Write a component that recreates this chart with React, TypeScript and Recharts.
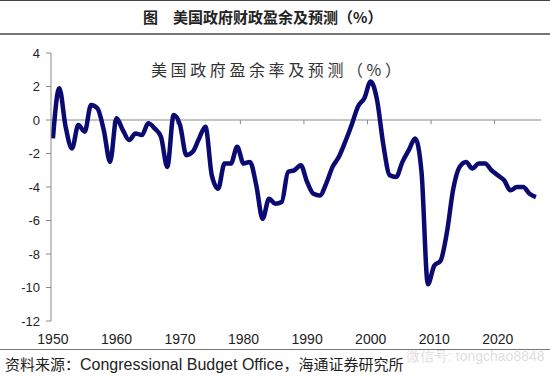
import React from 'react';
import { LineChart, Line, XAxis, YAxis, ReferenceLine } from 'recharts';

const years = [
  1950, 1951, 1952, 1953, 1954, 1955, 1956, 1957, 1958, 1959,
  1960, 1961, 1962, 1963, 1964, 1965, 1966, 1967, 1968, 1969,
  1970, 1971, 1972, 1973, 1974, 1975, 1976, 1977, 1978, 1979,
  1980, 1981, 1982, 1983, 1984, 1985, 1986, 1987, 1988, 1989,
  1990, 1991, 1992, 1993, 1994, 1995, 1996, 1997, 1998, 1999,
  2000, 2001, 2002, 2003, 2004, 2005, 2006, 2007, 2008, 2009,
  2010, 2011, 2012, 2013, 2014, 2015, 2016, 2017, 2018, 2019,
  2020, 2021, 2022, 2023, 2024, 2025, 2026,
];

// surplus (+) / deficit (-) as % of GDP
const surplus = [
  -1.1, 1.9, -0.4, -1.7, -0.3, -0.7, 0.9, 0.7, -0.6, -2.5,
  0.1, -0.6, -1.2, -0.8, -0.9, -0.2, -0.5, -1.0, -2.8, 0.3,
  -0.3, -2.1, -1.9, -1.1, -0.4, -3.3, -4.1, -2.6, -2.6, -1.6,
  -2.6, -2.5, -3.9, -5.9, -4.7, -5.0, -4.9, -3.1, -3.0, -2.7,
  -3.7, -4.4, -4.5, -3.8, -2.8, -2.2, -1.3, -0.3, 0.8, 1.3,
  2.3, 1.2, -1.5, -3.3, -3.4, -2.5, -1.8, -1.1, -3.1, -9.8,
  -8.7, -8.4, -6.7, -4.1, -2.8, -2.5, -2.9, -2.6, -2.6, -3.0,
  -3.3, -3.6, -4.2, -4.0, -4.0, -4.4, -4.6,
];

const xTicks = [1950, 1960, 1970, 1980, 1990, 2000, 2010, 2020];
const yTicks = [-12, -10, -8, -6, -4, -2, 0, 2, 4];
// little marks on the zero line between decades
const decadeMarks = [1959.5, 1969.5, 1979.5, 1989.5, 1999.5, 2009.5, 2019.5];

const data = years.map((y, i) => ({ year: y, value: surplus[i] }));

const cjk = '"Noto Sans CJK SC", sans-serif';
const latin = '"Liberation Sans", Arial, sans-serif';

export default function App() {
  return (
    <div
      style={{
        position: 'absolute',
        left: 0,
        top: 0,
        width: 550,
        height: 381,
        background: '#fff',
        overflow: 'hidden',
      }}
    >
      <div style={{ position: 'absolute', left: 0, top: 0, width: 550, height: 1, background: '#444' }} />
      <div
        style={{
          position: 'absolute',
          left: 143,
          top: 7,
          fontFamily: cjk,
          fontSize: 15,
          fontWeight: 700,
          color: '#222',
          lineHeight: '20px',
          whiteSpace: 'nowrap',
        }}
      >
        <span>图</span>
        <span style={{ marginLeft: 15 }}>美国政府财政盈余及预测（%）</span>
      </div>
      <div style={{ position: 'absolute', left: 0, top: 33, width: 550, height: 2, background: '#777' }} />

      <LineChart
        width={550}
        height={381}
        data={data}
        margin={{ top: 53, right: 9, bottom: 35, left: 6 }}
      >
        <XAxis
          dataKey="year"
          type="number"
          domain={[1949.7, 2026.8]}
          ticks={xTicks}
          allowDataOverflow
          axisLine={false}
          tickLine={false}
          tickSize={0}
          tickMargin={13}
          height={25}
          tick={{ fontSize: 14, fill: '#222', fontFamily: latin }}
        />
        <YAxis
          domain={[-12, 4]}
          ticks={yTicks}
          width={45}
          axisLine={{ stroke: '#888' }}
          tickLine={{ stroke: '#888' }}
          tickSize={5}
          tickMargin={6}
          tick={{ fontSize: 13, fill: '#222', fontFamily: latin }}
        />
        <ReferenceLine y={0} stroke="#888" strokeWidth={1} />
        {decadeMarks.map((m) => (
          <ReferenceLine
            key={m}
            segment={[
              { x: m, y: 0 },
              { x: m, y: -0.25 },
            ]}
            stroke="#888"
          />
        ))}
        <Line
          type="monotone"
          dataKey="value"
          stroke="#0a0a72"
          strokeWidth={4.5}
          dot={false}
          isAnimationActive={false}
        />
      </LineChart>

      <div
        style={{
          position: 'absolute',
          left: 151,
          top: 58,
          fontFamily: cjk,
          fontSize: 16,
          letterSpacing: 3.6,
          color: '#333',
          lineHeight: '22px',
          whiteSpace: 'nowrap',
        }}
      >
        美国政府盈余率及预测（%）
      </div>

      <div style={{ position: 'absolute', left: 0, top: 349, width: 550, height: 1, background: '#777' }} />
      <div
        style={{
          position: 'absolute',
          left: 406,
          top: 348,
          fontFamily: latin,
          fontSize: 14,
          lineHeight: '16px',
          color: 'rgba(140,140,140,0.3)',
          whiteSpace: 'nowrap',
        }}
      >
        微信号: tongchao8848
      </div>
      <div
        style={{
          position: 'absolute',
          left: 5,
          top: 354,
          fontSize: 15,
          color: '#222',
          lineHeight: '20px',
          whiteSpace: 'nowrap',
        }}
      >
        <span style={{ fontFamily: cjk }}>资料来源：</span>
        <span style={{ fontFamily: latin, fontSize: 16 }}>Congressional Budget Office</span>
        <span style={{ fontFamily: cjk }}>，海通证券研究所</span>
      </div>
    </div>
  );
}
